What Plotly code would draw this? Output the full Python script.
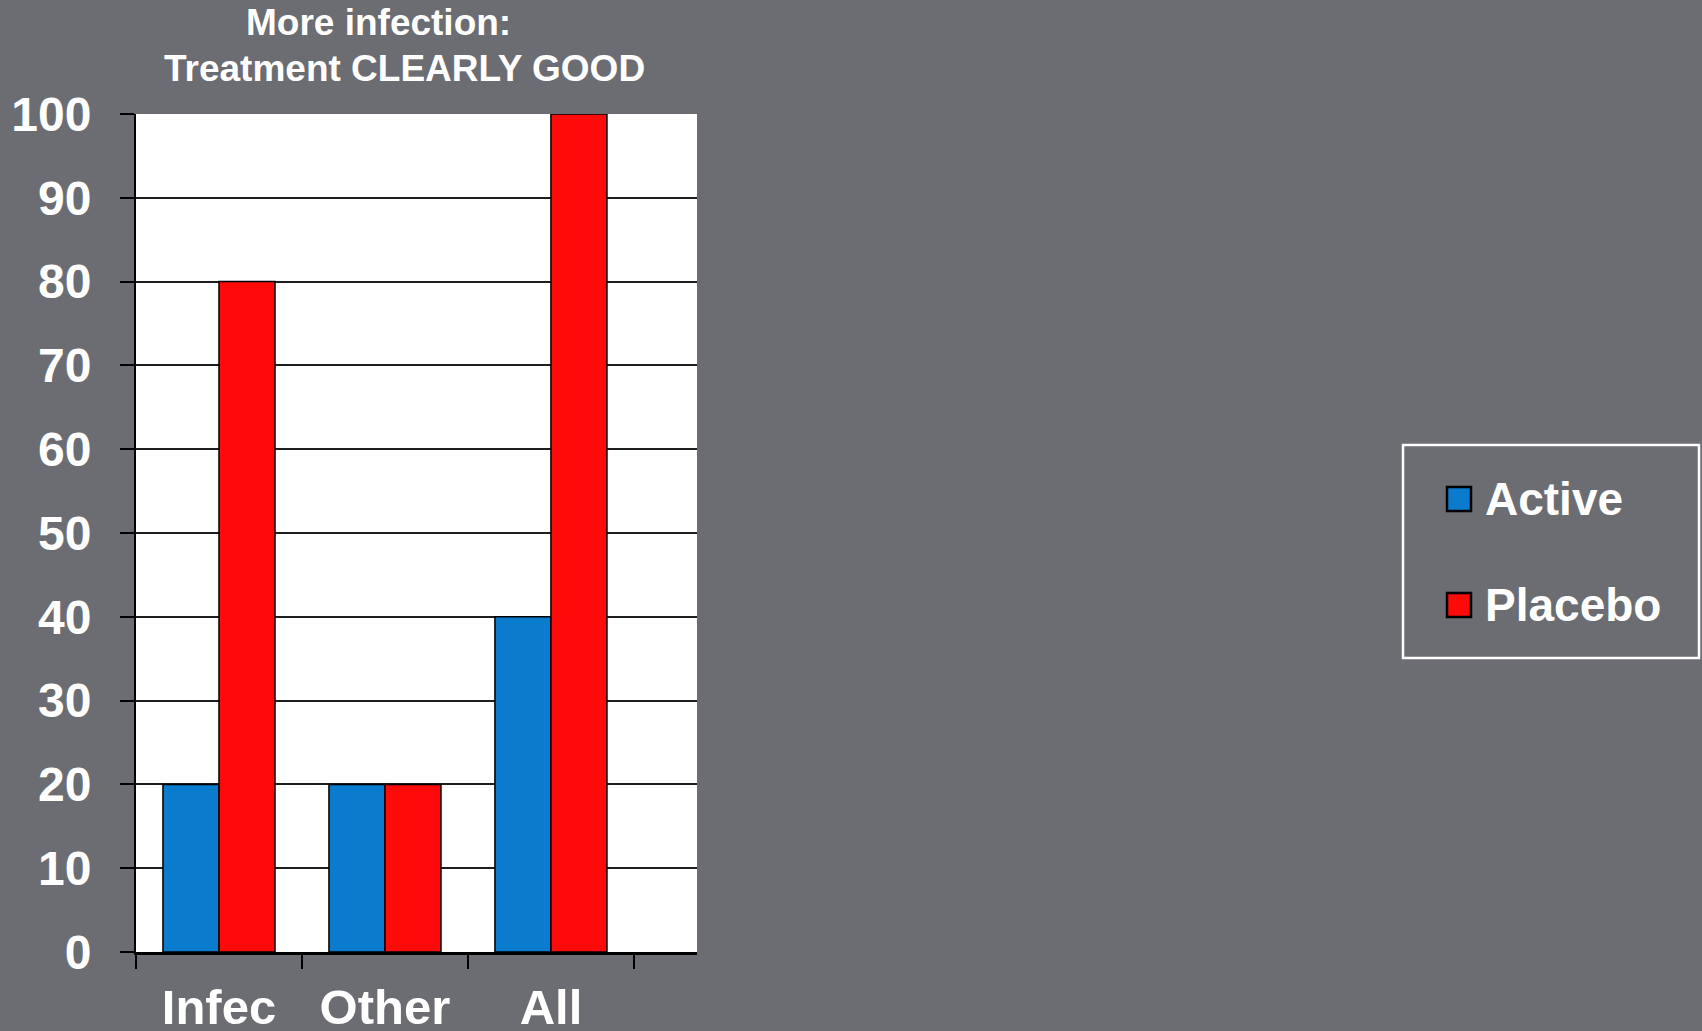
import plotly.graph_objects as go

# Chart data
categories = ["Infec", "Other", "All"]
active_values = [20, 20, 40]
placebo_values = [80, 20, 100]
series_names = ["Active", "Placebo"]
series_colors = ["#0b7bcd", "#fe0a0a"]
y_tick_values = [0, 10, 20, 30, 40, 50, 60, 70, 80, 90, 100]
title_lines = ["More infection:", "Treatment CLEARLY GOOD"]

# Page geometry (pixels)
W, H = 1702, 1031
PLOT_L, PLOT_R, PLOT_T, PLOT_B = 136, 697, 114, 952
BG = "#6c6d72"
FONT = "Liberation Sans, Arial, Helvetica, sans-serif"


def px_x(px):
    """Convert a horizontal pixel position to paper coordinates."""
    return (px - PLOT_L) / (PLOT_R - PLOT_L)


def px_y(py):
    """Convert a vertical pixel position to paper coordinates."""
    return (PLOT_B - py) / (PLOT_B - PLOT_T)


fig = go.Figure()
for name, color, values in zip(series_names, series_colors, [active_values, placebo_values]):
    fig.add_trace(go.Bar(
        x=categories,
        y=values,
        name=name,
        marker=dict(color=color, line=dict(color="black", width=1.5)),
        showlegend=False,
    ))

# Two-line heading above the plot
title_centres = [(378, 23), (404, 68)]
annotations = []
for text, (cx, cy) in zip(title_lines, title_centres):
    annotations.append(dict(
        text=text, xref="paper", yref="paper", x=px_x(cx), y=px_y(cy),
        xanchor="center", yanchor="middle", showarrow=False,
        font=dict(family=FONT, size=37, color="white", weight="bold"),
    ))

# Boxed key on the right: coloured squares plus series names
shapes = [dict(
    type="rect", xref="paper", yref="paper",
    x0=px_x(1403), x1=px_x(1699), y0=px_y(658), y1=px_y(445),
    line=dict(color="white", width=2.5), fillcolor="rgba(0,0,0,0)", layer="above",
)]
key_rows = [499, 605]
for name, color, row in zip(series_names, series_colors, key_rows):
    shapes.append(dict(
        type="rect", xref="paper", yref="paper",
        x0=px_x(1447), x1=px_x(1471), y0=px_y(row + 12), y1=px_y(row - 12),
        line=dict(color="black", width=2.5), fillcolor=color, layer="above",
    ))
    annotations.append(dict(
        text=name, xref="paper", yref="paper", x=px_x(1483), y=px_y(row),
        xanchor="left", yanchor="middle", showarrow=False,
        font=dict(family=FONT, size=46, color="white", weight="bold"),
    ))

fig.update_layout(
    width=W, height=H,
    margin=dict(l=PLOT_L, r=W - PLOT_R, t=PLOT_T, b=H - PLOT_B, pad=0, autoexpand=False),
    paper_bgcolor=BG,
    plot_bgcolor="white",
    barmode="group",
    bargap=0.325,
    bargroupgap=0,
    showlegend=False,
    font=dict(family=FONT, color="white"),
    annotations=annotations,
    shapes=shapes,
)

fig.update_xaxes(
    type="category",
    range=[-0.5, 2.88],
    automargin=False,
    tickson="boundaries",
    ticks="outside", ticklen=14, tickwidth=2, tickcolor="black",
    showline=True, linecolor="black", linewidth=2.5,
    showgrid=False, zeroline=False,
    tickfont=dict(family=FONT, size=49, color="white", weight="bold"),
    ticklabelstandoff=10,
    fixedrange=True,
)

fig.update_yaxes(
    range=[0, 100],
    automargin=False,
    tickmode="array", tickvals=y_tick_values,
    ticks="outside", ticklen=14, tickwidth=2, tickcolor="black",
    showline=True, linecolor="black", linewidth=2,
    showgrid=True, gridcolor="#1e1e1e", gridwidth=2,
    zeroline=False,
    tickfont=dict(family=FONT, size=48, color="white", weight="bold"),
    ticklabelstandoff=19,
    fixedrange=True,
)

fig.write_html("out.html", config={"displayModeBar": False})
